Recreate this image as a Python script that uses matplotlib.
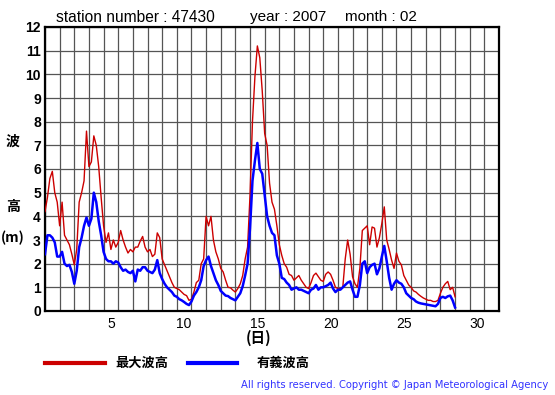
import matplotlib
matplotlib.use("Agg")
import matplotlib.pyplot as plt
import numpy as np

# 4-hourly samples from Feb 1 00:00 to Feb 29 00:00 (x in day units, 1-based)
steps_per_day = 6
max_wave = [
    4.2, 4.8, 5.6, 5.9, 5.0, 4.6,
    3.6, 4.6, 3.2, 3.0, 2.8, 2.4,
    1.95, 2.6, 4.6, 5.0, 5.5, 7.6,
    6.1, 6.3, 7.4, 7.0, 6.1, 4.8,
    3.6, 2.9, 3.3, 2.6, 3.0, 2.7,
    2.9, 3.4, 3.0, 2.7, 2.45, 2.6,
    2.5, 2.7, 2.7, 2.95, 3.15, 2.7,
    2.5, 2.6, 2.3, 2.4, 3.3, 3.1,
    2.2, 1.95, 1.7, 1.45, 1.2, 1.0,
    0.95, 0.9, 0.8, 0.7, 0.65, 0.45,
    0.5, 0.8, 1.2, 1.3, 2.0, 2.2,
    4.0, 3.6, 4.0, 3.0, 2.5, 2.2,
    1.8, 1.65, 1.3, 1.0, 0.98, 0.88,
    0.8, 0.95, 1.15, 1.5, 2.2, 2.7,
    4.9, 8.0, 9.9, 11.2, 10.7, 9.3,
    7.5, 7.0, 5.4, 4.6, 4.3, 3.6,
    2.8, 2.35, 2.0, 1.85, 1.55, 1.5,
    1.3, 1.4, 1.5, 1.3, 1.15, 1.0,
    0.95, 1.2, 1.5, 1.6, 1.45, 1.3,
    1.25, 1.55, 1.65, 1.55, 1.3, 1.0,
    0.95, 0.95, 1.0, 2.2, 3.0, 2.4,
    1.45, 1.15, 1.0, 1.8, 3.4, 3.5,
    3.6, 2.8, 3.55, 3.5, 2.7, 3.1,
    3.7, 4.4, 3.0, 2.6, 2.15, 1.8,
    2.45, 2.1, 1.95, 1.5, 1.3, 1.1,
    1.0, 0.85, 0.8, 0.7, 0.62, 0.55,
    0.5, 0.45, 0.45, 0.4, 0.4, 0.45,
    0.75, 1.0, 1.15, 1.25, 0.9, 1.0,
    0.6,
]
sig_wave = [
    2.4, 3.2, 3.2, 3.1, 2.9, 2.3,
    2.3, 2.5, 2.0, 1.9, 1.95, 1.65,
    1.15, 1.7, 2.7, 3.1, 3.6, 3.95,
    3.6, 3.9, 5.0, 4.6, 3.8, 3.2,
    2.5, 2.2, 2.1, 2.1, 2.0, 2.1,
    2.05, 1.85, 1.7, 1.75, 1.65, 1.6,
    1.7, 1.25, 1.75, 1.7, 1.85, 1.85,
    1.7, 1.65, 1.6, 1.75, 2.15, 1.6,
    1.35, 1.15, 1.0, 0.9, 0.8, 0.65,
    0.6, 0.5, 0.45, 0.38, 0.3, 0.25,
    0.4, 0.65, 0.8, 1.0, 1.3, 1.9,
    2.15, 2.3, 1.9, 1.6, 1.3, 1.1,
    0.85, 0.75, 0.65, 0.63, 0.55, 0.5,
    0.45, 0.6, 0.75, 1.05, 1.5, 2.0,
    3.5, 5.5, 6.35, 7.1, 6.0, 5.8,
    4.9, 4.0, 3.6, 3.3, 3.2, 2.35,
    2.0, 1.4, 1.35, 1.2, 1.1, 0.9,
    0.95, 1.0, 0.9, 0.9, 0.85, 0.8,
    0.75, 0.9, 0.95, 1.1, 0.9, 1.0,
    1.0, 1.05, 1.1, 1.2, 0.95, 0.8,
    0.9, 0.9, 1.0, 1.1, 1.2, 1.25,
    0.9, 0.6, 0.6, 1.1, 2.0, 2.1,
    1.6, 1.85, 1.95, 2.0, 1.55, 1.8,
    2.3, 2.75, 2.1, 1.4, 0.9, 1.15,
    1.3, 1.2, 1.15, 1.0, 0.75, 0.65,
    0.55, 0.5, 0.4, 0.35, 0.32, 0.3,
    0.28, 0.26, 0.24, 0.22, 0.2, 0.3,
    0.55, 0.6, 0.55, 0.62, 0.65, 0.45,
    0.15,
]
x_tick_labels = ["5", "10", "15", "20", "25", "30"]
y_tick_labels = [str(i) for i in range(13)]

days = 1 + np.arange(len(max_wave)) / steps_per_day

W, H = 555, 395
fig = plt.figure(figsize=(W / 100, H / 100), dpi=100)
fig.patch.set_facecolor("white")

left, right, top, bottom = 45, 499, 27, 311
ax = fig.add_axes([left / W, 1 - bottom / H, (right - left) / W, (bottom - top) / H])
ax.set_xlim(1, 32)
ax.set_ylim(0, 12)

ax.set_xticks(np.arange(1, 33), minor=True)
ax.set_yticks(np.arange(0, 13))
ax.set_xticks([int(t) + 0.5 for t in x_tick_labels])
ax.set_xticklabels(x_tick_labels, fontsize=10, family="Liberation Sans")
ax.set_yticklabels(y_tick_labels, fontsize=10, family="Liberation Sans", fontweight="bold")
ax.tick_params(axis="both", which="both", length=0)
ax.tick_params(axis="y", pad=3)
ax.tick_params(axis="x", pad=4)

ax.grid(True, which="minor", axis="x", color="#555555", lw=0.9)
ax.grid(True, which="major", axis="y", color="#555555", lw=0.9)
ax.set_axisbelow(True)
for s in ax.spines.values():
    s.set_linewidth(1.6)
    s.set_color("black")

ax.plot(days, max_wave, color="#cc0000", lw=1.0, zorder=3)
ax.plot(days, sig_wave, color="#0000ff", lw=1.8, zorder=4)

cjk = ["Noto Sans CJK JP", "DejaVu Sans"]

def fx(px):
    return px / W

def fy(py):
    return 1 - py / H

fig.text(fx(56), fy(17), "station number : 47430", fontsize=11.2, family="Liberation Sans", va="center", ha="left")
fig.text(fx(250), fy(17), "year : 2007", fontsize=11, family="Liberation Sans", va="center", ha="left")
fig.text(fx(345), fy(17), "month : 02", fontsize=11, family="Liberation Sans", va="center", ha="left")

fig.text(fx(13), fy(142), "波", fontsize=10, family=cjk, fontweight="bold", va="center", ha="center")
fig.text(fx(13), fy(207), "高", fontsize=10, family=cjk, fontweight="bold", va="center", ha="center")
fig.text(fx(1), fy(238), "(m)", fontsize=10, family=cjk, fontweight="bold", va="center", ha="left")
fig.text(fx(259), fy(338), "(日)", fontsize=10.5, family=cjk, fontweight="bold", va="center", ha="center")

# legend
fig.add_artist(plt.Line2D([fx(45), fx(105)], [fy(363), fy(363)], color="#cc0000", lw=3))
fig.text(fx(115), fy(363), "最大波高", fontsize=9.5, family=cjk, fontweight="bold", va="center", ha="left")
fig.add_artist(plt.Line2D([fx(188), fx(237)], [fy(363), fy(363)], color="#0000ff", lw=3))
fig.text(fx(257), fy(363), "有義波高", fontsize=9.5, family=cjk, fontweight="bold", va="center", ha="left")

fig.text(fx(548), fy(385), "All rights reserved. Copyright © Japan Meteorological Agency",
         fontsize=7.2, family="DejaVu Sans", color="#3333ff", va="center", ha="right")

fig.savefig("out.png", dpi=100, facecolor="white")
